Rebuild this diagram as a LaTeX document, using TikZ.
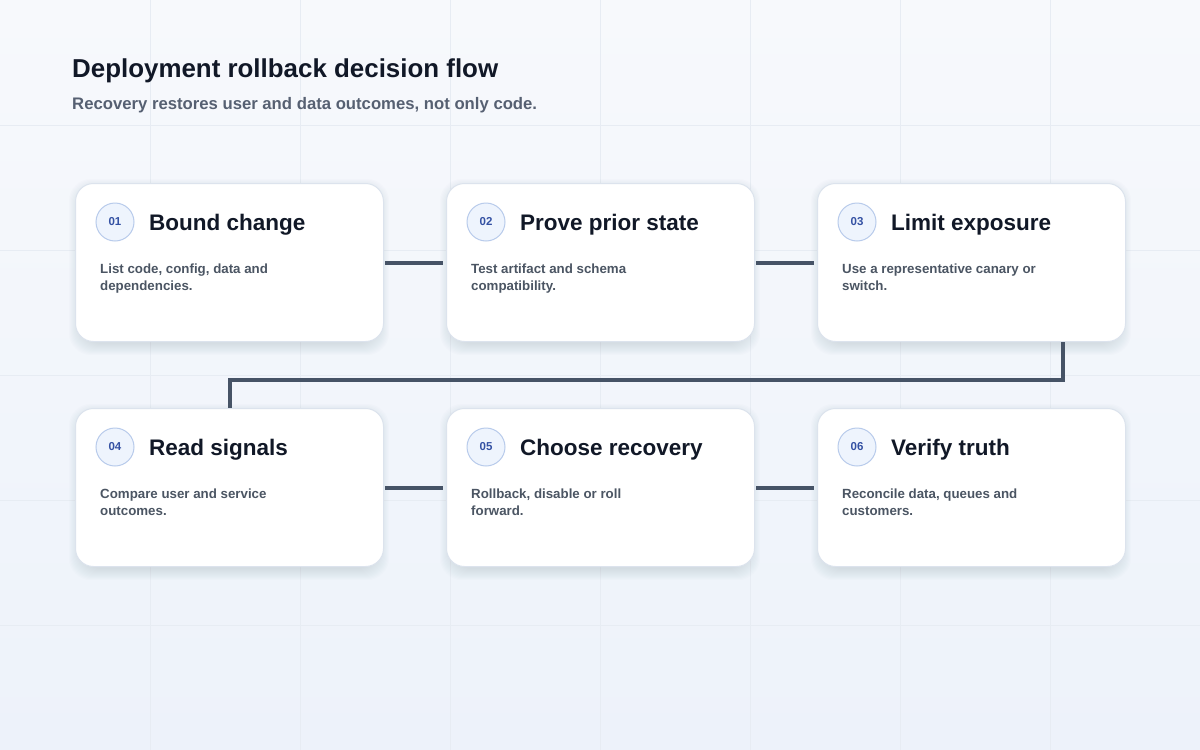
\documentclass[tikz,border=0pt]{standalone}
\usepackage{fontspec}
\setmainfont{Liberation Sans}
\definecolor{bgtop}{HTML}{F7F9FC}
\definecolor{bgbot}{HTML}{EDF2FA}
\definecolor{gridc}{HTML}{E7ECF3}
\definecolor{cardline}{HTML}{DCE3ED}
\definecolor{ink}{HTML}{111827}
\definecolor{muted}{HTML}{4B5563}
\definecolor{subc}{HTML}{566072}
\definecolor{conncol}{HTML}{465366}
\definecolor{badgefill}{HTML}{EEF4FD}
\definecolor{badgeline}{HTML}{B8CBEB}
\definecolor{badgetext}{HTML}{3451A3}
\definecolor{shadowc}{HTML}{3A4A70}
\tikzset{
  gridline/.style={draw=gridc, line width=0.8pt},
  card/.style={draw=cardline, line width=1pt, fill=white, rounded corners=18pt,
    minimum width=308pt, minimum height=158pt, anchor=north west, inner sep=0pt},
  cardshadow/.style={fill=shadowc, fill opacity=0.013, rounded corners=22pt},
  badge/.style={circle, draw=badgeline, line width=1pt, fill=badgefill, minimum size=38pt,
    inner sep=0pt, text=badgetext, font=\bfseries\fontsize{11.5}{13}\selectfont},
  ctitle/.style={anchor=base west, inner sep=0pt, text=ink, font=\bfseries\fontsize{22.5}{26}\selectfont},
  cdesc/.style={anchor=base west, inner sep=0pt, align=left, text=muted, font=\bfseries\fontsize{13.3}{17}\selectfont},
  conn/.style={draw=conncol, line width=4pt},
}
\newcommand{\mkcard}[6]{% name, x, y, num, title, desc
  \foreach \k in {1,...,12} {
    \fill[cardshadow] (#2+6-\k,#3+8-\k) rectangle (#2+302+\k,#3+160+\k);
  }
  \node[card] (#1) at (#2,#3) {};
  \node[badge] (#1b) at (#2+40,#3+39) {#4};
  \node[ctitle] (#1t) at (#2+74,#3+47) {#5};
  \node[cdesc] (#1d) at (#2+25,#3+107) {#6};
}
\begin{document}
\begin{tikzpicture}[x=1pt,y=-1pt]
\useasboundingbox (0,0) rectangle (1200,750);
\shade[top color=bgtop, bottom color=bgbot] (0,0) rectangle (1200,750);
\foreach \gx in {150,300,...,1050} \draw[gridline] (\gx,0) -- (\gx,750);
\foreach \gy in {125,250,...,625} \draw[gridline] (0,\gy) -- (1200,\gy);

\node[anchor=base west, inner sep=0pt, text=ink, font=\bfseries\fontsize{25.9}{30}\selectfont] (title) at (72,77) {Deployment rollback decision flow};
\node[anchor=base west, inner sep=0pt, text=subc, font=\bfseries\fontsize{16.7}{20}\selectfont] (subtitle) at (72,109) {Recovery restores user and data outcomes, not only code.};

\mkcard{c1}{75}{183}{01}{Bound change}{List code, config, data and\\dependencies.}
\mkcard{c2}{446}{183}{02}{Prove prior state}{Test artifact and schema\\compatibility.}
\mkcard{c3}{817}{183}{03}{Limit exposure}{Use a representative canary or\\switch.}
\mkcard{c4}{75}{408}{04}{Read signals}{Compare user and service\\outcomes.}
\mkcard{c5}{446}{408}{05}{Choose recovery}{Rollback, disable or roll\\forward.}
\mkcard{c6}{817}{408}{06}{Verify truth}{Reconcile data, queues and\\customers.}

\draw[conn] ([xshift=1pt]c1.east) -- ([xshift=-3pt]c2.west);
\draw[conn] ([xshift=1pt]c2.east) -- ([xshift=-3pt]c3.west);
\coordinate (t3) at ([xshift=91pt]c3.south);
\draw[conn] (t3) -- ++(0,38) -| (c4.north);
\draw[conn] ([xshift=1pt]c4.east) -- ([xshift=-3pt]c5.west);
\draw[conn] ([xshift=1pt]c5.east) -- ([xshift=-3pt]c6.west);
\end{tikzpicture}
\end{document}
